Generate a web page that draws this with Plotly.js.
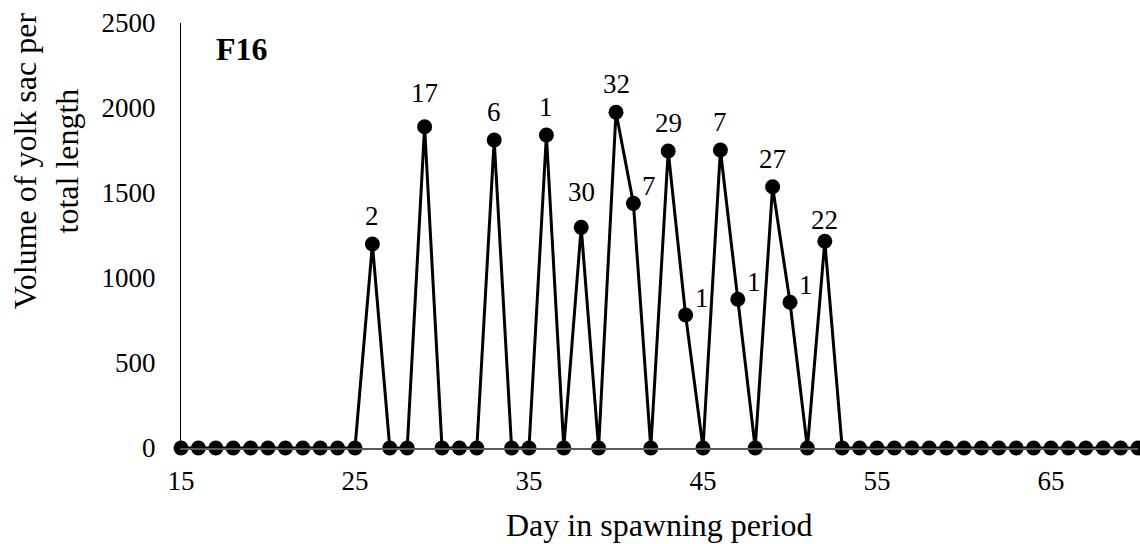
<!DOCTYPE html>
<html>
<head>
<meta charset="utf-8">
<script src="https://cdn.plot.ly/plotly-3.0.1.min.js"></script>
<style>
  html, body { margin: 0; padding: 0; background: #fff; }
  #chart { width: 1140px; height: 544px; }
</style>
</head>
<body>
<div id="chart"></div>
<script>
// Day in spawning period
var days = [15,16,17,18,19,20,21,22,23,24,25,26,27,28,29,30,31,32,33,34,35,36,37,38,39,40,41,42,
            43,44,45,46,47,48,49,50,51,52,53,54,55,56,57,58,59,60,61,62,63,64,65,66,67,68,69,70];
// Volume of yolk sac per total length
var volumes = [0,0,0,0,0,0,0,0,0,0,0,1200,0,0,1890,0,0,0,1812,0,0,1841,0,1298,0,1975,1439,0,
               1747,782,0,1753,875,0,1537,857,0,1216,0,0,0,0,0,0,0,0,0,0,0,0,0,0,0,0,0,0];
// Point labels (number of larvae)
var labelDays  = [26, 29, 33, 36, 38, 40, 41, 43, 44, 46, 47, 49, 50, 52];
var labelTexts = ['2','17','6','1','30','32','7','29','1','7','1','27','1','22'];
var xTickVals = [15, 25, 35, 45, 55, 65];
var yTickVals = [0, 500, 1000, 1500, 2000, 2500];
var panelLabel = 'F16';

// label placement (style, not data)
var labelSides  = ['top','top','top','top','top','top','right','top','right','top','right','top','right','top'];
var labelNudges = [0, 6, 0, 0, 7, 0, 0, 0, 0, 0, 0, 0, 0, -7];

var FONT = 'Liberation Serif';

var annotations = labelDays.map(function (d, i) {
  var yv = volumes[days.indexOf(d)];
  var right = labelSides[i] === 'right';
  return {
    x: d, y: yv, xref: 'x', yref: 'y',
    text: labelTexts[i], showarrow: false,
    font: {family: FONT, size: 27, color: '#000'},
    xanchor: right ? 'left' : 'center',
    yanchor: 'middle',
    xshift: right ? 7 : 0,
    yshift: (right ? 17 : 28) + labelNudges[i]
  };
});

annotations.push({
  xref: 'paper', yref: 'paper', x: 0.035, y: 0.94,
  text: '<b>' + panelLabel + '</b>', showarrow: false,
  xanchor: 'left', yanchor: 'middle',
  font: {family: FONT, size: 32, color: '#000'}
});
annotations.push({
  xref: 'paper', yref: 'paper', x: -0.141, y: 0.675,
  text: 'Volume of yolk sac per<br>total length', showarrow: false,
  textangle: -90, xanchor: 'center', yanchor: 'middle',
  font: {family: FONT, size: 32, color: '#000'}
});
annotations.push({
  xref: 'paper', yref: 'paper', x: 0.5, y: -0.2259,
  text: 'Day in spawning period', showarrow: false,
  xanchor: 'center', yanchor: 'bottom', borderpad: 0,
  font: {family: FONT, size: 32, color: '#000'}
});

var trace = {
  x: days, y: volumes, type: 'scatter', mode: 'lines+markers',
  line: {color: '#000', width: 3},
  marker: {color: '#000', size: 15},
  cliponaxis: false, hoverinfo: 'skip'
};

var layout = {
  width: 1140, height: 544,
  margin: {l: 181, r: 2, t: 23, b: 96, pad: 0},
  paper_bgcolor: '#fff', plot_bgcolor: '#fff',
  showlegend: false,
  font: {family: FONT, color: '#000'},
  xaxis: {
    range: [15, 70], tickvals: xTickVals, ticktext: xTickVals.map(String),
    showgrid: false, zeroline: false, showline: true, linecolor: '#595959', linewidth: 1.5,
    ticks: '', ticklabelstandoff: 8,
    tickfont: {family: FONT, size: 27, color: '#000'}
  },
  yaxis: {
    range: [0, 2500], tickvals: yTickVals, ticktext: yTickVals.map(String),
    showgrid: false, zeroline: false, showline: true, linecolor: '#000', linewidth: 1,
    ticks: '', ticklabelstandoff: 19,
    tickfont: {family: FONT, size: 27, color: '#000'}
  },
  annotations: annotations
};

Plotly.newPlot('chart', [trace], layout, {displayModeBar: false, staticPlot: true});
</script>
</body>
</html>
